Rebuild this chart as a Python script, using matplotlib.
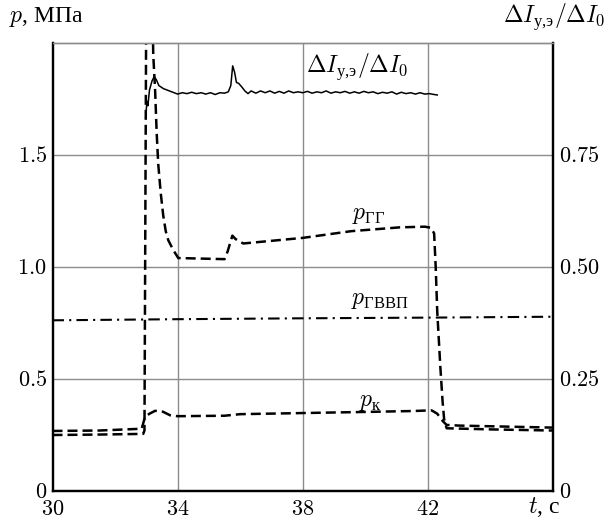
import matplotlib
matplotlib.use('Agg')
import matplotlib.pyplot as plt

plt.rcParams['mathtext.fontset'] = 'cm'
plt.rcParams['font.family'] = ['Liberation Serif', 'DejaVu Serif']

# p_ГГ (left axis, MPa)
t_gg = [30.0, 31.5, 32.9, 32.94, 33.0, 33.18, 33.22, 33.28, 33.33, 33.38, 33.46, 33.54,
        33.62, 33.7, 33.86, 34.02, 35.5, 35.6, 35.75, 35.85, 36.1, 38.0, 39.55, 41.1, 41.9,
        42.1, 42.2, 42.25, 42.3, 42.4, 42.47, 42.52, 42.6, 44.0, 46.0]
p_gg = [0.25, 0.252, 0.255, 0.27, 2.3, 2.3, 1.95, 1.79, 1.6, 1.46, 1.33, 1.23,
        1.16, 1.12, 1.076, 1.04, 1.035, 1.07, 1.14, 1.125, 1.105, 1.13, 1.16, 1.177, 1.18,
        1.175, 1.15, 1.0, 0.8, 0.55, 0.4, 0.32, 0.28, 0.275, 0.27]

# p_к (left axis)
t_k = [30.0, 31.5, 32.85, 32.96, 33.1, 33.28, 33.53, 33.76, 34.0, 35.5, 36.0, 38.0,
       40.0, 41.5, 42.12, 42.3, 42.49, 42.6, 43.0, 46.0]
p_k = [0.268, 0.27, 0.278, 0.331, 0.345, 0.358, 0.354, 0.338, 0.334, 0.336, 0.343, 0.348,
       0.353, 0.357, 0.36, 0.345, 0.31, 0.295, 0.292, 0.283]

# p_ГВВП (left axis)
t_gvvp = [30.0, 34.0, 38.0, 42.0, 46.0]
p_gvvp = [0.762, 0.767, 0.771, 0.774, 0.778]

# ΔI_у,э/ΔI_0 (right axis)
di_points = [
    (32.98, 0.835), (33.02, 0.87), (33.05, 0.86), (33.1, 0.895), (33.18, 0.915),
    (33.25, 0.925), (33.32, 0.918), (33.4, 0.905), (33.55, 0.898), (33.7, 0.894),
    (33.85, 0.89), (34.0, 0.886), (34.15, 0.889), (34.3, 0.887), (34.45, 0.890),
    (34.6, 0.887), (34.75, 0.889), (34.9, 0.886), (35.05, 0.889), (35.2, 0.885),
    (35.35, 0.889), (35.5, 0.888), (35.62, 0.891), (35.7, 0.905), (35.76, 0.949),
    (35.82, 0.935), (35.88, 0.912), (35.95, 0.91), (36.05, 0.902), (36.15, 0.893),
    (36.25, 0.887), (36.35, 0.893), (36.5, 0.888), (36.65, 0.893), (36.8, 0.889),
    (36.95, 0.893), (37.1, 0.888), (37.25, 0.892), (37.4, 0.888), (37.55, 0.893),
    (37.7, 0.889), (37.85, 0.891), (38.0, 0.889), (38.15, 0.892), (38.3, 0.888),
    (38.45, 0.891), (38.6, 0.889), (38.75, 0.893), (38.9, 0.888), (39.05, 0.891),
    (39.2, 0.889), (39.35, 0.892), (39.5, 0.888), (39.65, 0.891), (39.8, 0.888),
    (39.95, 0.892), (40.1, 0.889), (40.25, 0.891), (40.4, 0.887), (40.55, 0.890),
    (40.7, 0.888), (40.85, 0.891), (41.0, 0.886), (41.15, 0.890), (41.3, 0.887),
    (41.45, 0.889), (41.6, 0.886), (41.75, 0.889), (41.9, 0.886), (42.05, 0.887),
    (42.2, 0.885), (42.3, 0.884),
]

x_ticks = [30, 34, 38, 42]
x_ticklabels = ['30', '34', '38', '42']
y_ticks = [0, 0.5, 1.0, 1.5]
y_ticklabels = ['0', '0.5', '1.0', '1.5']
y2_ticks = [0, 0.25, 0.5, 0.75]
y2_ticklabels = ['0', '0.25', '0.50', '0.75']

fig = plt.figure(figsize=(6.08, 5.2), dpi=100)
ax = fig.add_axes([52.5 / 608, 1 - 491 / 520, 500.5 / 608, 448 / 520])
ax2 = ax.twinx()

ax.set_xlim(30, 46)
ax.set_ylim(0, 2.0)
ax2.set_ylim(0, 1.0)

dash = (0, (4, 2))
ax.plot(t_gg, p_gg, color='black', lw=1.8, linestyle=dash)
ax.plot(t_k, p_k, color='black', lw=1.8, linestyle=dash)
ax.plot(t_gvvp, p_gvvp, color='black', lw=1.5, linestyle=(0, (5.5, 2.5, 1, 2.5)))
t_di = [p[0] for p in di_points]
di = [p[1] for p in di_points]
ax2.plot(t_di, di, color='black', lw=1.1)

# grid
for xv in x_ticks[1:]:
    ax.axvline(xv, color='#8c8c8c', lw=1.0, zorder=0)
for yv in y_ticks[1:]:
    ax.axhline(yv, color='#8c8c8c', lw=1.0, zorder=0)

ax.set_xticks(x_ticks)
ax.set_xticklabels([f'${s}$' for s in x_ticklabels])
ax.set_yticks(y_ticks)
ax.set_yticklabels([f'${s}$' for s in y_ticklabels])
ax2.set_yticks(y2_ticks)
ax2.set_yticklabels([f'${s}$' for s in y2_ticklabels])
ax.tick_params(axis='y', length=0, labelsize=16, pad=4)
ax.tick_params(axis='x', length=0, labelsize=16, pad=7)
ax2.tick_params(length=0, labelsize=16, pad=4)

for a in (ax, ax2):
    for side in ('left', 'right', 'bottom'):
        a.spines[side].set_linewidth(1.6)
        a.spines[side].set_color('black')
    a.spines['top'].set_linewidth(1.0)
    a.spines['top'].set_color('#8c8c8c')

fs = 17
sub_di = r'$\Delta I_{\mathdefault{у{,}э}}/\Delta I_0$'
ax.text(40.1, 1.23, r'$p_{\mathdefault{ГГ}}$', fontsize=fs, ha='center', va='center')
ax.text(40.47, 0.85, r'$p_{\mathdefault{ГВВП}}$', fontsize=fs, ha='center', va='center')
ax.text(40.15, 0.395, r'$p_{\mathdefault{к}}$', fontsize=fs, ha='center', va='center')
ax2.text(38.1, 0.945, sub_di, fontsize=fs, ha='left', va='center')

fig.text(9 / 608, 1 - 17 / 520, r'$p$, МПа', fontsize=fs, ha='left', va='center')
fig.text(605 / 608, 1 - 17 / 520, sub_di, fontsize=fs, ha='right', va='center')
fig.text(544 / 608, 1 - 507 / 520, r'$t$, с', fontsize=fs, ha='center', va='center')

fig.savefig('out.png', dpi=100)
